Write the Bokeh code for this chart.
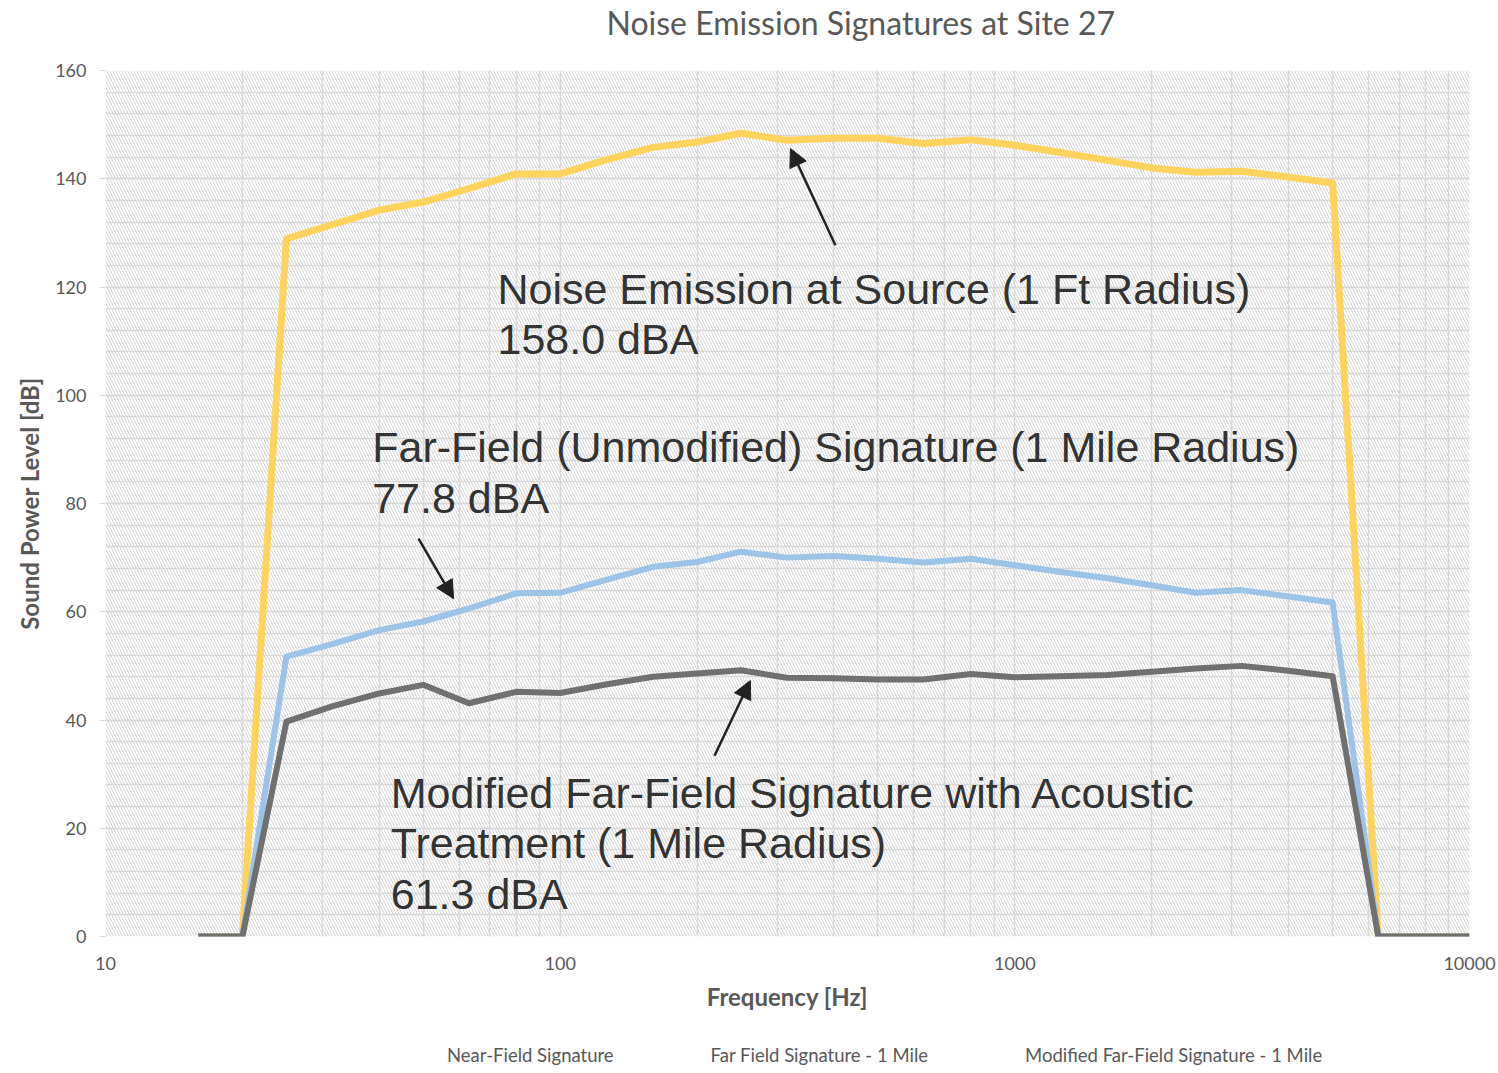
from bokeh.plotting import figure
from bokeh.layouts import column
from bokeh.models import (BoxAnnotation, Label, Arrow, NormalHead, Legend, LegendItem,
                          FixedTicker, SingleIntervalTicker, PrintfTickFormatter, Range1d)
from bokeh.embed import file_html
from bokeh.resources import INLINE

# ---------------- data ----------------
freq = [16, 20, 25, 31.5, 40, 50, 63, 80, 100, 125, 160, 200, 250, 315, 400, 500,
        630, 800, 1000, 1250, 1600, 2000, 2500, 3150, 4000, 5000, 6300, 8000, 10000]
near_field = [0, 0, 128.9, 131.5, 134.2, 135.7, 138.2, 140.9, 140.9, 143.4, 145.8, 146.8,
              148.4, 147.1, 147.5, 147.5, 146.5, 147.2, 146.2, 144.9, 143.4, 142.0, 141.2,
              141.4, 140.3, 139.2, 0, 0, 0]
far_field = [0, 0, 51.7, 54.0, 56.6, 58.2, 60.6, 63.4, 63.5, 65.8, 68.3, 69.2, 71.1, 70.0,
             70.3, 69.8, 69.1, 69.8, 68.6, 67.4, 66.2, 64.9, 63.5, 64.0, 62.8, 61.7, 0, 0, 0]
modified = [0, 0, 39.7, 42.5, 44.9, 46.5, 43.1, 45.2, 45.0, 46.5, 48.0, 48.6, 49.2, 47.8,
            47.7, 47.5, 47.5, 48.5, 47.9, 48.1, 48.3, 48.9, 49.5, 50.0, 49.1, 48.1, 0, 0, 0]
series_names = ["Near-Field Signature", "Far Field Signature - 1 Mile",
                "Modified Far-Field Signature - 1 Mile"]
series_colors = ["#FFD45E", "#9DC3E6", "#707070"]
series_widths = [7, 6, 6]
x_ticks = [10, 100, 1000, 10000]
chart_title = "Noise Emission Signatures at Site 27"

# annotation texts (x in Hz, y in dB)
notes = [
    ("Noise Emission at Source (1 Ft Radius)", 72.8, 119.7),
    ("158.0 dBA", 72.8, 110.4),
    ("Far-Field (Unmodified) Signature (1 Mile Radius)", 38.6, 90.5),
    ("77.8 dBA", 38.6, 81.1),
    ("Modified Far-Field Signature with Acoustic", 42.4, 26.6),
    ("Treatment (1 Mile Radius)", 42.4, 17.2),
    ("61.3 dBA", 42.4, 7.9),
]
# arrows: (x_start, y_start, x_end, y_end)
arrows = [
    (403, 127.7, 321, 145.6),
    (48.8, 73.5, 58.3, 62.4),
    (218.5, 33.4, 262, 47.3),
]

W = 1498

# ---------------- title strip ----------------
tf = figure(width=W, height=60, x_range=Range1d(0, 1), y_range=Range1d(0, 1),
            x_axis_location=None, y_axis_location=None,
            output_backend="svg", toolbar_location=None,
            min_border_left=0, min_border_right=0, min_border_top=0, min_border_bottom=0)
tf.outline_line_color = None
tf.grid.visible = False
tf.add_layout(Label(x=501, y=38, x_units="screen", y_units="screen", text=chart_title,
                    text_font="Lato", text_font_size="32px", text_color="#595959",
                    text_baseline="middle", text_align="left"))

# ---------------- main figure ----------------
p = figure(width=W, height=960, x_axis_type="log",
           x_range=Range1d(10, 10000), y_range=Range1d(0, 160),
           output_backend="svg", toolbar_location=None,
           min_border_left=105, min_border_right=29, min_border_top=10, min_border_bottom=84)
p.outline_line_color = None
p.background_fill_color = "white"
p.border_fill_color = "white"

# hatch background
bg = BoxAnnotation(fill_color=None, line_color=None, hatch_pattern="\\",
                   hatch_color="#d6d6d6", hatch_scale=6, hatch_weight=1, level="image")
p.add_layout(bg)

# axes
minor = []
for d in [10, 100, 1000]:
    minor += [d * k for k in range(2, 10)]
p.xaxis.ticker = FixedTicker(ticks=x_ticks, minor_ticks=minor)
p.xaxis.formatter = PrintfTickFormatter(format="%d")
p.yaxis.ticker = SingleIntervalTicker(interval=20, num_minor_ticks=5)

for ax in (p.xaxis[0], p.yaxis[0]):
    ax.axis_line_color = None
    ax.minor_tick_line_color = None
    ax.major_label_text_font = "Lato"
    ax.major_label_text_font_size = "18px"
    ax.major_label_text_color = "#595959"
    ax.axis_label_text_font = "Lato"
    ax.axis_label_text_font_size = "24px"
    ax.axis_label_text_font_style = "bold"
    ax.axis_label_text_color = "#595959"

p.xaxis.major_tick_line_color = None
p.xaxis.major_label_standoff = 14
p.xaxis.axis_label = "Frequency [Hz]"
p.xaxis.axis_label_standoff = 9

p.yaxis.major_tick_line_color = "#d9d9d9"
p.yaxis.major_tick_out = 6
p.yaxis.major_tick_in = 0
p.yaxis.major_label_standoff = 13
p.yaxis.axis_label = "Sound Power Level [dB]"
p.yaxis.axis_label_standoff = 8

for g in (p.xgrid[0], p.ygrid[0]):
    g.grid_line_color = "#d9d9d9"
    g.grid_line_width = 1.5
    g.minor_grid_line_color = "#d9d9d9"
    g.minor_grid_line_width = 1.5
    g.level = "underlay"

# lines
for ys, c, w in zip([near_field, far_field, modified], series_colors, series_widths):
    p.line(freq, ys, line_color=c, line_width=w, line_join="round")

# annotations
for txt, x, y in notes:
    p.add_layout(Label(x=x, y=y, text=txt, text_font="Liberation Sans",
                       text_font_size="43px", text_color="#333333",
                       text_baseline="middle", text_align="left"))
for xs, ys, xe, ye in arrows:
    p.add_layout(Arrow(x_start=xs, y_start=ys, x_end=xe, y_end=ye,
                       line_color="#222222", line_width=2.5,
                       end=NormalHead(size=18, fill_color="#222222", line_color="#222222")))

# ---------------- legend strip ----------------
lf = figure(width=W, height=53, x_range=Range1d(0, 1), y_range=Range1d(0, 1),
            x_axis_location=None, y_axis_location=None,
            output_backend="svg", toolbar_location=None,
            min_border_left=0, min_border_right=0, min_border_top=0, min_border_bottom=0)
lf.outline_line_color = None
lf.grid.visible = False
items = []
for name, c, w in zip(series_names, series_colors, series_widths):
    r = lf.line(x=[], y=[], line_color=c, line_width=w)
    items.append(LegendItem(label=name, renderers=[r]))
legend = Legend(items=items, orientation="horizontal", location=(291, 7),
                glyph_width=50, glyph_height=16, label_height=16,
                label_standoff=1, spacing=46, padding=0, margin=0,
                border_line_color=None, background_fill_alpha=0,
                label_text_font="Lato", label_text_font_size="18.5px",
                label_text_color="#595959")
lf.add_layout(legend, "center")

layout = column(tf, p, lf, spacing=0)
open("out.html", "w").write(file_html(layout, INLINE))
